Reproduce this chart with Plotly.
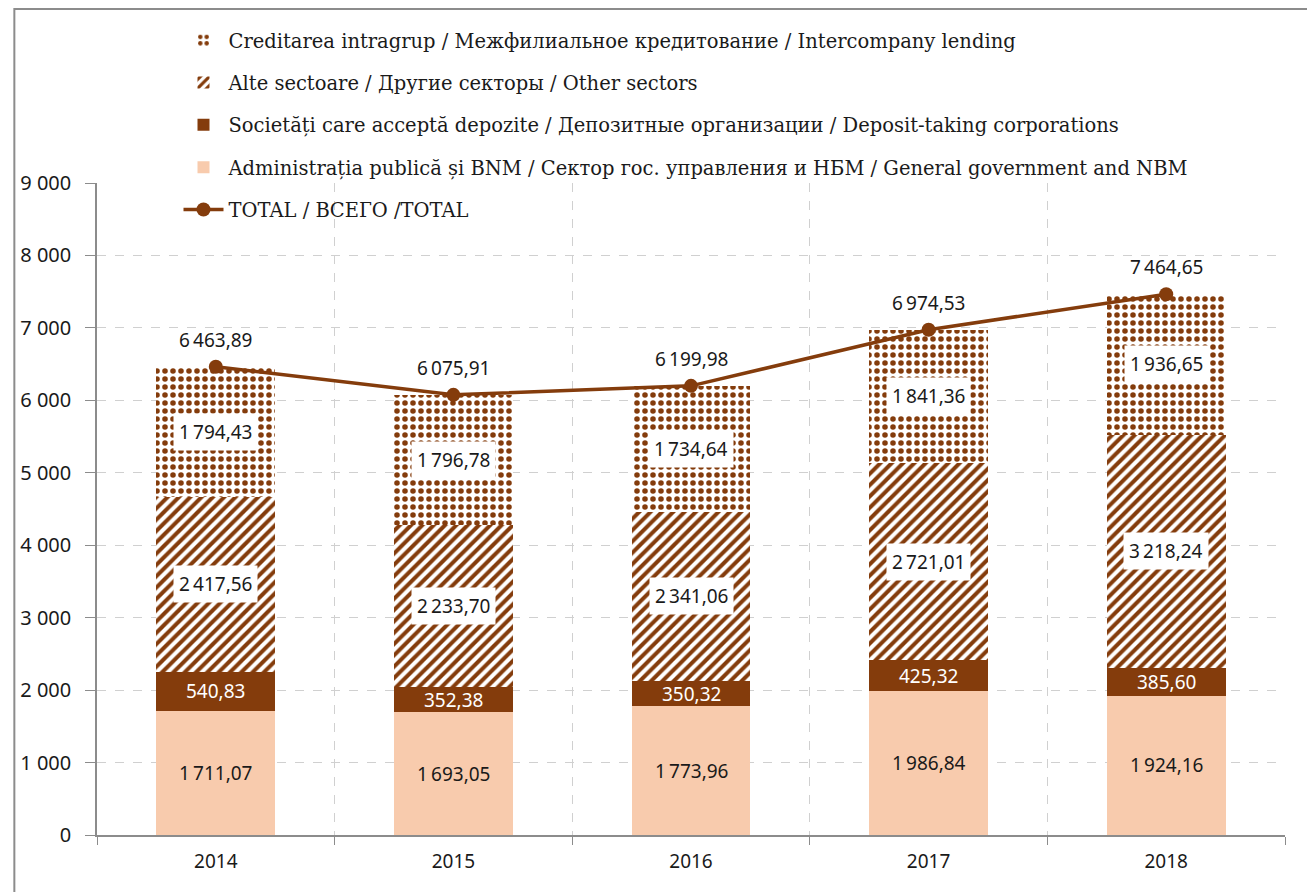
import plotly.graph_objects as go

years = ["2014", "2015", "2016", "2017", "2018"]
gov = [1711.07, 1693.05, 1773.96, 1986.84, 1924.16]
deposit = [540.83, 352.38, 350.32, 425.32, 385.60]
other = [2417.56, 2233.70, 2341.06, 2721.01, 3218.24]
interco = [1794.43, 1796.78, 1734.64, 1841.36, 1936.65]
total = [6463.89, 6075.91, 6199.98, 6974.53, 7464.65]

names = {
    "interco": "Creditarea intragrup / Межфилиальное кредитование / Intercompany lending",
    "other": "Alte sectoare / Другие секторы / Other sectors",
    "deposit": "Societăți care acceptă depozite / Депозитные организации / Deposit-taking corporations",
    "gov": "Administrația publică și BNM / Сектор гос. управления и НБМ / General government and NBM",
    "total": "TOTAL / ВСЕГО /TOTAL",
}

BROWN = "#843C0C"
PEACH = "#F8CBAD"
SANS = "Noto Sans"
SERIF = "DejaVu Serif"
TXT = "#1a1a1a"


def fmt(v):
    s = f"{v:,.2f}"
    return s.replace(",", "\u2009").replace(".", ",")


fig = go.Figure()
fig.add_bar(x=years, y=gov, name=names["gov"], marker=dict(color=PEACH, line=dict(width=0)),
            legendgroup="g4", legendrank=4)
fig.add_bar(x=years, y=deposit, name=names["deposit"], marker=dict(color=BROWN, line=dict(width=0)),
            legendgroup="g3", legendrank=3)
fig.add_bar(x=years, y=other, name=names["other"],
            marker=dict(color="white", line=dict(width=0),
                        pattern=dict(shape="/", fgcolor=BROWN, fgopacity=1, bgcolor="white",
                                     size=8, solidity=0.5)),
            legendgroup="g2", legendrank=2)
fig.add_bar(x=years, y=interco, name=names["interco"],
            marker=dict(color="white", line=dict(width=0),
                        pattern=dict(shape=".", fgcolor=BROWN, fgopacity=1, bgcolor="white",
                                     size=8, solidity=0.38)),
            legendgroup="g1", legendrank=1)
fig.add_scatter(x=years, y=total, name=names["total"], mode="lines+markers",
                line=dict(color=BROWN, width=3.5), marker=dict(color=BROWN, size=14),
                legendgroup="g5", legendrank=5)

ann = []
for i, yr in enumerate(years):
    base = 0
    ann.append(dict(x=i, y=base + gov[i] / 2, text=fmt(gov[i]), showarrow=False,
                    font=dict(family=SANS, size=19, color=TXT)))
    base += gov[i]
    ann.append(dict(x=i, y=base + deposit[i] / 2, text=fmt(deposit[i]), showarrow=False,
                    font=dict(family=SANS, size=19, color="white")))
    base += deposit[i]
    ann.append(dict(x=i, y=base + other[i] / 2, text=fmt(other[i]), showarrow=False,
                    bgcolor="white", borderpad=5,
                    font=dict(family=SANS, size=19, color=TXT)))
    base += other[i]
    ann.append(dict(x=i, y=base + interco[i] / 2, text=fmt(interco[i]), showarrow=False,
                    bgcolor="white", borderpad=5,
                    font=dict(family=SANS, size=19, color=TXT)))
    ann.append(dict(x=i, y=total[i], text=fmt(total[i]), showarrow=False, yshift=27,
                    font=dict(family=SANS, size=19, color=TXT)))

fig.update_layout(
    width=1315, height=892,
    margin=dict(l=84, r=38, t=175, b=65),
    paper_bgcolor="white", plot_bgcolor="white",
    barmode="stack", bargap=0.5,
    separators=", ",
    annotations=ann,
    showlegend=True,
    legend=dict(x=0.0686, y=1.2485, xanchor="left", yanchor="top",
                orientation="v", traceorder="grouped", tracegroupgap=14,
                font=dict(family=SERIF, size=19.5, color=TXT),
                bgcolor="rgba(0,0,0,0)", itemwidth=40),
    xaxis=dict(type="category", range=[-0.5, 4.5], tickson="boundaries", showgrid=True,
               gridcolor="#d0d0d0", griddash="dash", showline=True, linecolor="#8c8c8c",
               linewidth=1.5, ticks="outside", ticklen=8, tickcolor="#8c8c8c",
               ticklabelstandoff=8,
               tickfont=dict(family=SANS, size=19, color=TXT)),
    yaxis=dict(range=[0, 9000], dtick=1000, showgrid=True, gridcolor="#d0d0d0", griddash="dash",
               showline=True, linecolor="#8c8c8c", linewidth=1.5, ticks="outside",
               ticklen=10, tickcolor="#8c8c8c", zeroline=False, separatethousands=True,
               ticklabelstandoff=10,
               tickfont=dict(family=SANS, size=20, color=TXT)),
    shapes=[dict(type="rect", xref="paper", yref="paper", x0=-83 / 1193, x1=1.0210,
                 y0=-0.2, y1=1 + 174 / 652,
                 line=dict(color="#8c8c8c", width=2), fillcolor="rgba(0,0,0,0)", layer="below")],
)

fig.write_html("out.html")
